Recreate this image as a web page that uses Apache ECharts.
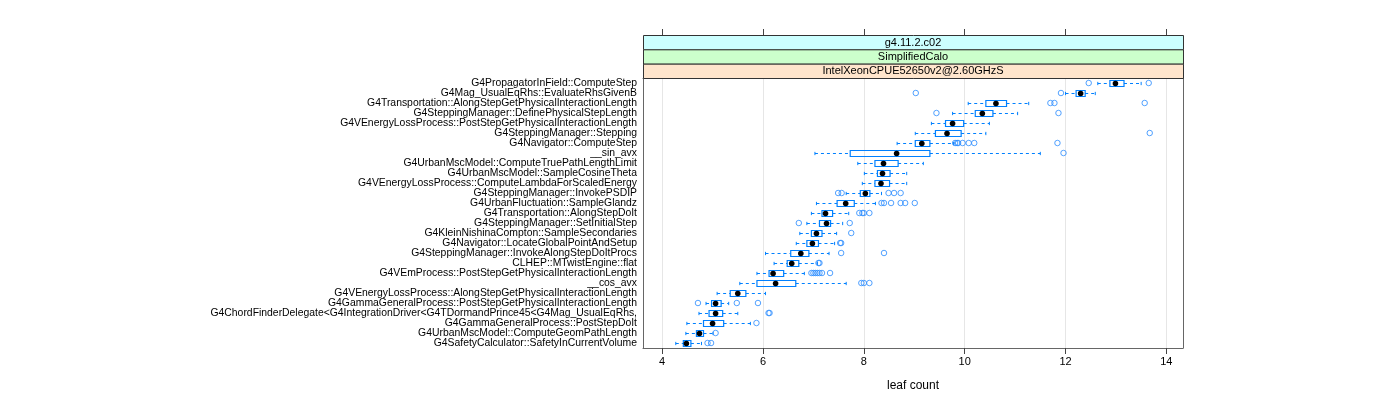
<!DOCTYPE html>
<html>
<head>
<meta charset="utf-8">
<script src="https://cdn.jsdelivr.net/npm/echarts@6/dist/echarts.min.js"></script>
<style>
html,body{margin:0;padding:0;background:#fff;}
#chart{width:1400px;height:400px;}
</style>
</head>
<body>
<div id="chart"></div>
<script>
const categories = [
  "G4PropagatorInField::ComputeStep",
  "G4Mag_UsualEqRhs::EvaluateRhsGivenB",
  "G4Transportation::AlongStepGetPhysicalInteractionLength",
  "G4SteppingManager::DefinePhysicalStepLength",
  "G4VEnergyLossProcess::PostStepGetPhysicalInteractionLength",
  "G4SteppingManager::Stepping",
  "G4Navigator::ComputeStep",
  "__sin_avx",
  "G4UrbanMscModel::ComputeTruePathLengthLimit",
  "G4UrbanMscModel::SampleCosineTheta",
  "G4VEnergyLossProcess::ComputeLambdaForScaledEnergy",
  "G4SteppingManager::InvokePSDIP",
  "G4UrbanFluctuation::SampleGlandz",
  "G4Transportation::AlongStepDoIt",
  "G4SteppingManager::SetInitialStep",
  "G4KleinNishinaCompton::SampleSecondaries",
  "G4Navigator::LocateGlobalPointAndSetup",
  "G4SteppingManager::InvokeAlongStepDoItProcs",
  "CLHEP::MTwistEngine::flat",
  "G4VEmProcess::PostStepGetPhysicalInteractionLength",
  "__cos_avx",
  "G4VEnergyLossProcess::AlongStepGetPhysicalInteractionLength",
  "G4GammaGeneralProcess::PostStepGetPhysicalInteractionLength",
  "G4ChordFinderDelegate<G4IntegrationDriver<G4TDormandPrince45<G4Mag_UsualEqRhs,",
  "G4GammaGeneralProcess::PostStepDoIt",
  "G4UrbanMscModel::ComputeGeomPathLength",
  "G4SafetyCalculator::SafetyInCurrentVolume"
];
const whiskerLow  = [12.64, 12.00, 10.07, 9.76, 9.34, 9.02, 8.66, 7.03, 7.88, 8.01, 7.97, 7.65, 7.06, 6.96, 6.87, 6.73, 6.66, 6.05, 6.22, 5.88, 5.54, 5.09, 4.87, 4.73, 4.49, 4.47, 4.27];
const q1          = [12.88, 12.21, 10.42, 10.21, 9.62, 9.42, 9.02, 7.73, 8.22, 8.27, 8.22, 7.93, 7.47, 7.17, 7.12, 6.96, 6.87, 6.55, 6.48, 6.12, 5.88, 5.35, 4.98, 4.93, 4.82, 4.68, 4.42];
const median      = [12.99, 12.30, 10.62, 10.35, 9.76, 9.65, 9.15, 8.65, 8.39, 8.37, 8.34, 8.03, 7.64, 7.24, 7.26, 7.06, 6.98, 6.75, 6.57, 6.20, 6.25, 5.50, 5.06, 5.06, 5.00, 4.74, 4.48];
const q3          = [13.16, 12.39, 10.83, 10.56, 9.98, 9.93, 9.31, 9.31, 8.68, 8.52, 8.51, 8.12, 7.81, 7.38, 7.34, 7.17, 7.10, 6.91, 6.71, 6.41, 6.65, 5.66, 5.17, 5.20, 5.22, 4.82, 4.57];
const whiskerHigh = [13.50, 12.59, 11.27, 11.05, 10.49, 10.42, 9.78, 11.50, 9.18, 8.85, 8.85, 8.35, 8.23, 7.70, 7.58, 7.46, 7.42, 7.31, 7.08, 6.82, 7.65, 6.05, 5.32, 5.50, 5.75, 5.01, 4.78];
const outliers = [
  [12.46, 13.65],
  [9.03, 11.91],
  [11.70, 11.78, 13.57],
  [9.44, 11.86],
  [],
  [13.67],
  [9.81, 9.85, 9.87, 9.96, 10.08, 10.19, 11.84],
  [11.96],
  [],
  [],
  [],
  [7.49, 7.56, 8.49, 8.60, 8.73],
  [8.35, 8.40, 8.54, 8.73, 8.82, 9.01],
  [7.91, 7.97, 8.00, 8.11],
  [6.71, 7.72],
  [7.75],
  [7.53, 7.55],
  [7.55, 8.40],
  [7.10, 7.12],
  [6.96, 7.00, 7.04, 7.08, 7.12, 7.17, 7.33],
  [7.95, 8.00, 8.11],
  [],
  [4.71, 5.48, 5.90],
  [6.11, 6.13],
  [5.87],
  [5.06],
  [4.90, 4.97]
];
const xTicks = [4, 6, 8, 10, 12, 14];
const stripLabels = ["g4.11.2.c02", "SimplifiedCalo", "IntelXeonCPUE52650v2@2.60GHzS"];
const stripColors = ["#ccffff", "#ccffcc", "#ffe5cc"];
const xTitle = "leaf count";

const FONT = "'Liberation Sans',Arial,sans-serif";
const BLUE = "#0080ff";

const boxData = categories.map((c, i) => [i, whiskerLow[i], q1[i], median[i], q3[i], whiskerHigh[i]]);
const outlierData = [];
outliers.forEach((arr, i) => arr.forEach(v => outlierData.push([v, i])));

const G = {left: 643, right: 217, top: 78, bottom: 52};
const stripTop = 35, stripH = (G.top - stripTop) / 3;
const stripW = 1400 - G.left - G.right;

const graphics = [];
stripLabels.forEach((t, k) => {
  graphics.push({
    type: 'rect', z: 10,
    shape: {x: G.left + 0.5, y: stripTop + k * stripH + 0.5, width: stripW, height: stripH},
    style: {fill: stripColors[k], stroke: '#333', lineWidth: 1}
  });
  graphics.push({
    type: 'text', z: 11,
    x: G.left + stripW / 2, y: stripTop + k * stripH + stripH / 2 + 0.5,
    style: {text: t, fill: '#000', font: "11px " + FONT, textAlign: 'center', textVerticalAlign: 'middle'}
  });
});

const chart = echarts.init(document.getElementById('chart'));
chart.setOption({
  animation: false,
  backgroundColor: '#fff',
  grid: Object.assign({containLabel: false, show: false}, G),
  graphic: graphics,
  xAxis: [{
    type: 'value', min: 3.62, max: 14.33, position: 'bottom',
    name: xTitle, nameLocation: 'middle', nameGap: 32,
    nameTextStyle: {fontSize: 12, color: '#000', fontFamily: FONT},
    axisLine: {show: true, onZero: false, lineStyle: {color: '#666', width: 1}},
    axisTick: {show: true, customValues: xTicks, length: 6, lineStyle: {color: '#444'}},
    axisLabel: {customValues: xTicks, color: '#000', fontSize: 11, fontFamily: FONT, margin: 8},
    splitLine: {show: true, lineStyle: {color: '#e6e6e6', width: 1}}
  }, {
    type: 'value', min: 3.62, max: 14.33, position: 'top', offset: G.top - stripTop,
    axisLine: {show: false},
    axisTick: {show: true, customValues: xTicks, length: 6, lineStyle: {color: '#444'}},
    axisLabel: {show: false},
    splitLine: {show: false}
  }, {
    type: 'value', min: 3.62, max: 14.33, position: 'top', offset: 0,
    axisLine: {show: true, onZero: false, lineStyle: {color: '#666'}},
    axisTick: {show: false}, axisLabel: {show: false}, splitLine: {show: false}
  }],
  yAxis: [{
    type: 'category', data: categories, inverse: true, position: 'left',
    axisLine: {show: true, onZero: false, lineStyle: {color: '#666'}},
    axisTick: {show: false},
    axisLabel: {color: '#000', fontSize: 10.4, fontFamily: FONT, margin: 6, interval: 0},
    splitLine: {show: false}
  }, {
    type: 'category', data: categories, inverse: true, position: 'right',
    axisLine: {show: true, onZero: false, lineStyle: {color: '#666'}},
    axisTick: {show: false}, axisLabel: {show: false}
  }],
  series: [{
    type: 'custom',
    xAxisIndex: 0, yAxisIndex: 0,
    encode: {x: [1, 2, 3, 4, 5], y: 0},
    data: boxData,
    z: 3,
    renderItem: function (params, api) {
      const i = api.value(0);
      const pLo = api.coord([api.value(1), i]);
      const pQ1 = api.coord([api.value(2), i]);
      const pMed = api.coord([api.value(3), i]);
      const pQ3 = api.coord([api.value(4), i]);
      const pHi = api.coord([api.value(5), i]);
      const y = Math.round(pMed[1]) + 0.5;
      const bh = api.size([0, 1])[1] * 0.6;
      const cap = bh * 0.55;
      const dash = {stroke: BLUE, lineWidth: 1, lineDash: [3, 3]};
      const solid = {stroke: BLUE, lineWidth: 1};
      return {
        type: 'group',
        children: [
          {type: 'line', shape: {x1: pLo[0], y1: y, x2: pQ1[0], y2: y}, style: dash},
          {type: 'line', shape: {x1: pQ3[0], y1: y, x2: pHi[0], y2: y}, style: dash},
          {type: 'line', shape: {x1: pLo[0], y1: y - cap / 2, x2: pLo[0], y2: y + cap / 2}, style: solid},
          {type: 'line', shape: {x1: pHi[0], y1: y - cap / 2, x2: pHi[0], y2: y + cap / 2}, style: solid},
          {type: 'rect', shape: {x: pQ1[0], y: y - bh / 2, width: pQ3[0] - pQ1[0], height: bh},
            style: {fill: 'rgba(255,255,255,0)', stroke: BLUE, lineWidth: 1.2}},
          {type: 'circle', shape: {cx: pMed[0], cy: y, r: 2.8}, style: {fill: '#000'}}
        ]
      };
    }
  }, {
    type: 'scatter',
    xAxisIndex: 0, yAxisIndex: 0,
    data: outlierData,
    symbol: 'circle',
    symbolSize: 5.5,
    itemStyle: {color: 'rgba(255,255,255,0)', borderColor: '#2b8cff', borderWidth: 1},
    z: 4
  }]
});
</script>
</body>
</html>
